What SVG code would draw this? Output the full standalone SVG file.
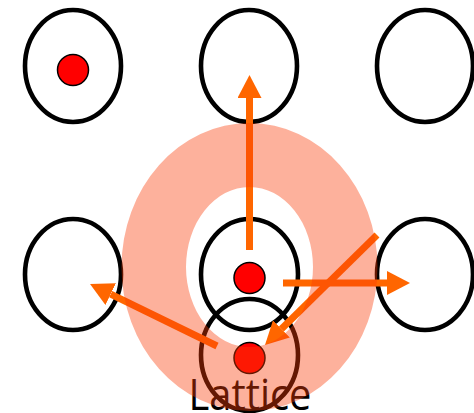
<svg xmlns="http://www.w3.org/2000/svg" width="474" height="413" viewBox="0 0 474 413">
<style>
.site{fill:none;stroke:#000;stroke-width:4.6}
.dot{fill:#ff0000;stroke:#000;stroke-width:1.5}
.arr{stroke:#ff6600;stroke-width:7;fill:none}
.lbl{font-family:"Open Sans","Noto Sans","Liberation Sans",sans-serif;font-size:44px;fill:#000}
</style>
<defs>
<marker id="ah" markerUnits="userSpaceOnUse" markerWidth="23" markerHeight="24" refX="0" refY="12" orient="auto" viewBox="0 0 23 24">
<path d="M0,0 L23,12 L0,24 z" fill="#ff6600"/>
</marker>
</defs>
<g id="site-tl"><ellipse class="site" cx="73" cy="66" rx="48" ry="56"/><circle class="dot" cx="73" cy="70" r="15.5"/></g>
<g id="site-tm"><ellipse class="site" cx="249" cy="66" rx="48" ry="56"/></g>
<g id="site-tr"><ellipse class="site" cx="425" cy="66" rx="48" ry="56"/></g>
<g id="site-ml"><ellipse class="site" cx="73" cy="274.5" rx="48" ry="55.5"/></g>
<g id="site-mm"><ellipse class="site" cx="249.5" cy="274.5" rx="48.5" ry="55.5"/></g>
<g id="site-mr"><ellipse class="site" cx="425" cy="274.5" rx="48" ry="55.5"/></g>
<g id="site-low"><ellipse class="site" cx="249.5" cy="355" rx="48.5" ry="56"/></g>
<g id="label"><text class="lbl" x="188.5" y="410" textLength="123" lengthAdjust="spacingAndGlyphs">Lattice</text></g>
<g id="connectors">
<line class="arr" x1="249.5" y1="250" x2="249.5" y2="98" marker-end="url(#ah)"/>
<line class="arr" x1="283" y1="283" x2="387" y2="283" marker-end="url(#ah)"/>
<line class="arr" x1="377" y1="235" x2="281.4" y2="328.9" marker-end="url(#ah)"/>
<line class="arr" x1="217" y1="346" x2="110.7" y2="294.1" marker-end="url(#ah)"/>
</g>
<g id="dots"><circle class="dot" cx="249.5" cy="278" r="15.5"/><circle class="dot" cx="249.5" cy="358" r="15.5"/></g>
<g id="ring"><path d="M121.5,267 a128,144 0 1,0 256,0 a128,144 0 1,0 -256,0 z M186,267 a63.5,80 0 1,0 127,0 a63.5,80 0 1,0 -127,0 z" fill="#fa3c08" fill-opacity="0.4" fill-rule="evenodd"/></g>
</svg>
